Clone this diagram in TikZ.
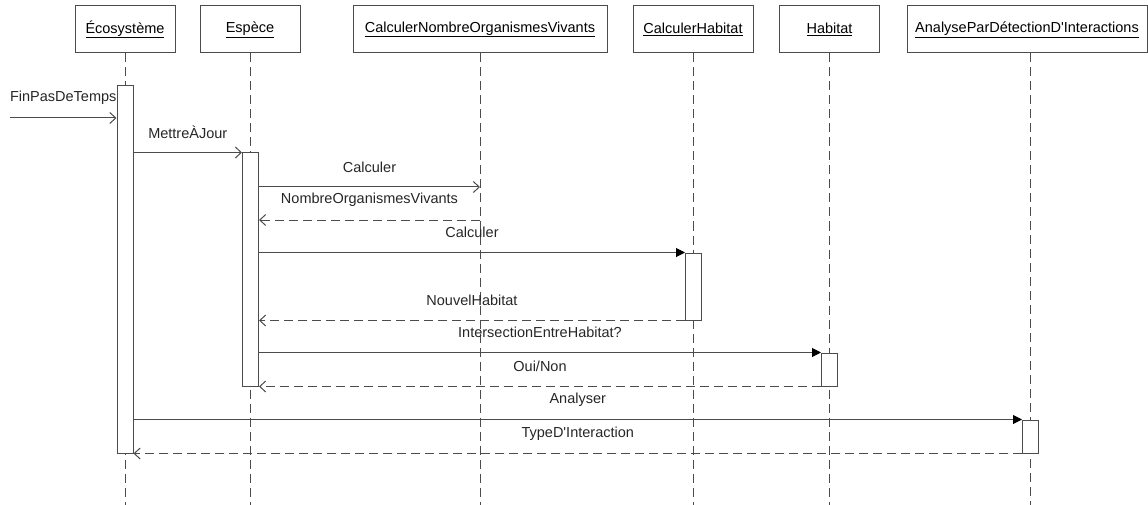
\documentclass[tikz,border=0pt]{standalone}
\usepackage{fontspec}
\setmainfont{Liberation Sans}
\usetikzlibrary{arrows.meta}
\tikzset{
  obj/.style     = {draw=black!70, fill=white, line width=1pt, minimum height=47pt,
                    inner sep=2pt, font=\fontsize{14.5}{17}\selectfont},
  life/.style    = {draw=black!70, line width=1pt, dash pattern=on 9pt off 5pt},
  act/.style     = {draw=black!70, fill=white, line width=1pt, minimum width=16pt,
                    inner sep=0pt},
  msg/.style     = {draw=black!70, line width=1pt,
                    -{Straight Barb[length=6pt,width=11pt,line width=1pt]}},
  call/.style    = {draw=black!70, line width=1pt,
                    -{Triangle[length=9pt,width=9pt,fill=black,color=black]}},
  ret/.style     = {draw=black!70, line width=1pt, dash pattern=on 9pt off 5pt,
                    -{Straight Barb[length=6pt,width=11pt,line width=1pt]}},
  lbl/.style     = {font=\fontsize{14.5}{17}\selectfont, text=black!85, inner sep=0pt,
                    midway, yshift=20pt},
}

\begin{document}
\begin{tikzpicture}[x=1pt,y=-1pt]
  \useasboundingbox (0,0) rectangle (1148,505);
  % objets
  \node[obj, minimum width=100pt] (eco) at (125,29.5) {\underline{Écosystème}};
  \node[obj, minimum width=100pt] (esp) at (250,29.5) {\underline{Espèce}};
  \node[obj, minimum width=254pt] (cnov) at (480,29.5) {\underline{CalculerNombreOrganismesVivants}};
  \node[obj, minimum width=120pt] (chab) at (693,29.5) {\underline{CalculerHabitat}};
  \node[obj, minimum width=100pt] (hab) at (829.5,29.5) {\underline{Habitat}};
  \node[obj, minimum width=240pt] (apdi) at (1027,29.5) {\underline{AnalyseParDétectionD\textquotesingle Interactions}};
  % lignes de vie
  \draw[life] (eco.south) -- (eco |- 0,505);
  \draw[life] (esp.south) -- (esp |- 0,505);
  \draw[life] (cnov.south) -- (cnov |- 0,505);
  \draw[life] (chab.south) -- (chab |- 0,505);
  \draw[life] (hab.south) -- (hab |- 0,505);
  \draw[life] (1030,53) -- (1030,505);
  % activations
  \node[act, minimum height=367pt] (aEco) at (125,269.5) {};
  \node[act, minimum height=233pt] (aEsp) at (250.5,269.5) {};
  \node[act, minimum height=67pt] (aChab) at (693.5,286.5) {};
  \node[act, minimum height=33pt] (aHab) at (829.5,369.5) {};
  \node[act, minimum height=33pt] (aApdi) at (1030.5,436.5) {};
  % messages
  \coordinate (start) at (10,118);
  \draw[msg] (start) -- (aEco.west |- start) node[lbl]{FinPasDeTemps};
  \draw[msg] (aEco.east |- aEsp.north) -- (aEsp.north west) node[lbl]{MettreÀJour};
  \draw[msg] (aEsp.east |- 0,187) -- (cnov |- 0,187) node[lbl]{Calculer};
  \draw[ret] (cnov |- 0,220) -- (aEsp.east |- 0,220) node[lbl]{NombreOrganismesVivants};
  \draw[call] (aEsp.east |- aChab.north) -- (aChab.north west) node[lbl]{Calculer};
  \draw[ret] (aChab.south west) -- (aEsp.east |- aChab.south) node[lbl]{NouvelHabitat};
  \draw[call] (aEsp.east |- aHab.north) -- (aHab.north west) node[lbl]{IntersectionEntreHabitat?};
  \draw[ret] (aHab.south west) -- (aEsp.south east) node[lbl]{Oui/Non};
  \draw[call] (aEco.east |- aApdi.north) -- (aApdi.north west) node[lbl]{Analyser};
  \draw[ret] (aApdi.south west) -- (aEco.south east) node[lbl]{TypeD\textquotesingle Interaction};
\end{tikzpicture}
\end{document}
